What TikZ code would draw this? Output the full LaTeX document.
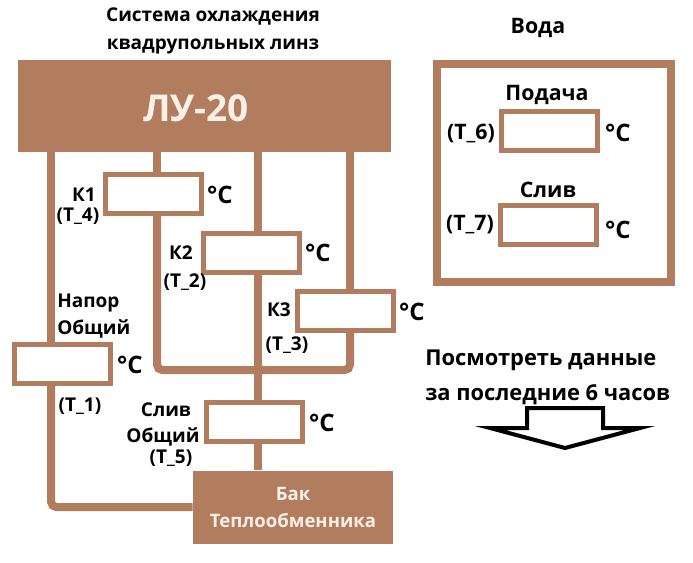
\documentclass[tikz,border=0pt]{standalone}
\usepackage{fontspec}
\setmainfont{Open Sans}
\usetikzlibrary{backgrounds}
\definecolor{pipe}{RGB}{178,124,94}
\definecolor{cream}{RGB}{250,240,230}
\begin{document}
\begin{tikzpicture}[x=0.75pt,y=-0.75pt,
  pipeline/.style={draw=pipe,line width=6pt,line join=miter},
  gauge/.style={draw=pipe,line width=3.75pt,fill=white,minimum width=72pt,minimum height=29.25pt,inner sep=0pt},
  lbl/.style={font=\bfseries\fontsize{14.25}{20}\selectfont,inner sep=0pt},
  rlbl/.style={font=\bfseries\fontsize{16}{20}\selectfont,inner sep=0pt},
  degc/.style={font=\bfseries\fontsize{18}{20}\selectfont,inner sep=0pt},
]
\useasboundingbox (0,0) rectangle (693,562);
% pipe positions
\coordinate (xa) at (51,0);
\coordinate (xb) at (157,0);
\coordinate (xc) at (258,0);
\coordinate (xd) at (350,0);
\coordinate (cR) at (350,370);

% main blocks
\node[fill=pipe,minimum width=279.75pt,minimum height=69pt,inner sep=0pt] (lu) at (204.5,106) {};
\node[font=\bfseries\fontsize{27.75}{30}\selectfont,text=cream,inner sep=0pt] (lutext) at (196,108) {ЛУ-20};
\node[fill=pipe,minimum width=150pt,minimum height=54.75pt,inner sep=0pt,text=cream,align=center,
      font=\bfseries\fontsize{13.9}{20.25}\selectfont] (bak) at (293,507) {Бак\\Теплообменника};

% gauges
\node[gauge] (K1) at (153.5,193.5) {};
\node[gauge] (K2) at (251,252.5) {};
\node[gauge] (K3) at (345,310.5) {};
\node[gauge] (T1) at (62,364) {};
\node[gauge] (T5) at (254,421.5) {};
\node[gauge] (T6) at (549,130.5) {};
\node[gauge] (T7) at (548,225) {};
\node[draw=pipe,line width=6pt,minimum width=175.5pt,minimum height=163.5pt,inner sep=0pt] (voda) at (554,173) {};

% pipes
\begin{scope}[on background layer]
\draw[pipeline] (lu.south -| xa) -- (T1.north -| xa);
\draw[pipeline,rounded corners=4pt] (T1.south -| xa) |- (bak.west);
\draw[pipeline] (lu.south -| xb) -- (K1.north -| xb);
\draw[pipeline,rounded corners=4pt] (K1.south -| xb) |- (cR) -- (K3.south -| xd);
\draw[pipeline] (lu.south -| xc) -- (K2.north -| xc);
\draw[pipeline] (K2.south -| xc) -- (T5.north -| xc);
\draw[pipeline] (T5.south -| xc) -- (bak.north -| xc);
\draw[pipeline] (lu.south -| xd) -- (K3.north -| xd);
\end{scope}

% texts
\node[font=\bfseries\fontsize{14.25}{21}\selectfont,align=center,inner sep=0pt] (title) at (213,31) {Система охлаждения\\квадрупольных линз};
\node[lbl] (k1) at (84,195) {К1};
\node[lbl] (t4) at (78,216) {(T\_4)};
\node[degc] (d1) at (220,195) {°C};
\node[lbl] (k2) at (181,253) {К2};
\node[lbl] (t2) at (185,282) {(T\_2)};
\node[degc] (d2) at (318,253) {°C};
\node[lbl] (k3) at (279,310) {К3};
\node[lbl] (t3) at (287,345) {(T\_3)};
\node[degc] (d3) at (412,312) {°C};
\node[lbl,anchor=west,align=left,font=\bfseries\fontsize{14.25}{20.25}\selectfont] (napor) at (57,316) {Напор\\Общий};
\node[degc] (d4) at (130,365) {°C};
\node[lbl] (t1) at (80,406) {(T\_1)};
\node[lbl] (sliv) at (166,410) {Слив};
\node[lbl] (obsh) at (163,437) {Общий};
\node[lbl] (t5) at (171,458) {(T\_5)};
\node[degc] (d5) at (322,423) {°C};

\node[rlbl] (voda-t) at (538,28) {Вода};
\node[rlbl] (podacha) at (547,95) {Подача};
\node[rlbl] (t6) at (471,133) {(T\_6)};
\node[degc] (d6) at (618,133) {°C};
\node[rlbl] (sliv2) at (548,190) {Слив};
\node[rlbl] (t7) at (470,225) {(T\_7)};
\node[degc] (d7) at (618,230) {°C};

\node[anchor=west,align=left,inner sep=0pt,font=\bfseries\fontsize{16.4}{26.25}\selectfont] (view) at (425,377) {Посмотреть данные\\за последние 6 часов};
\draw[black,line width=3pt,line join=miter] (527,428) -- (527,408) -- (603,408) -- (603,428) -- (640,428) -- (565,448) -- (490,428) -- cycle;
\end{tikzpicture}
\end{document}
